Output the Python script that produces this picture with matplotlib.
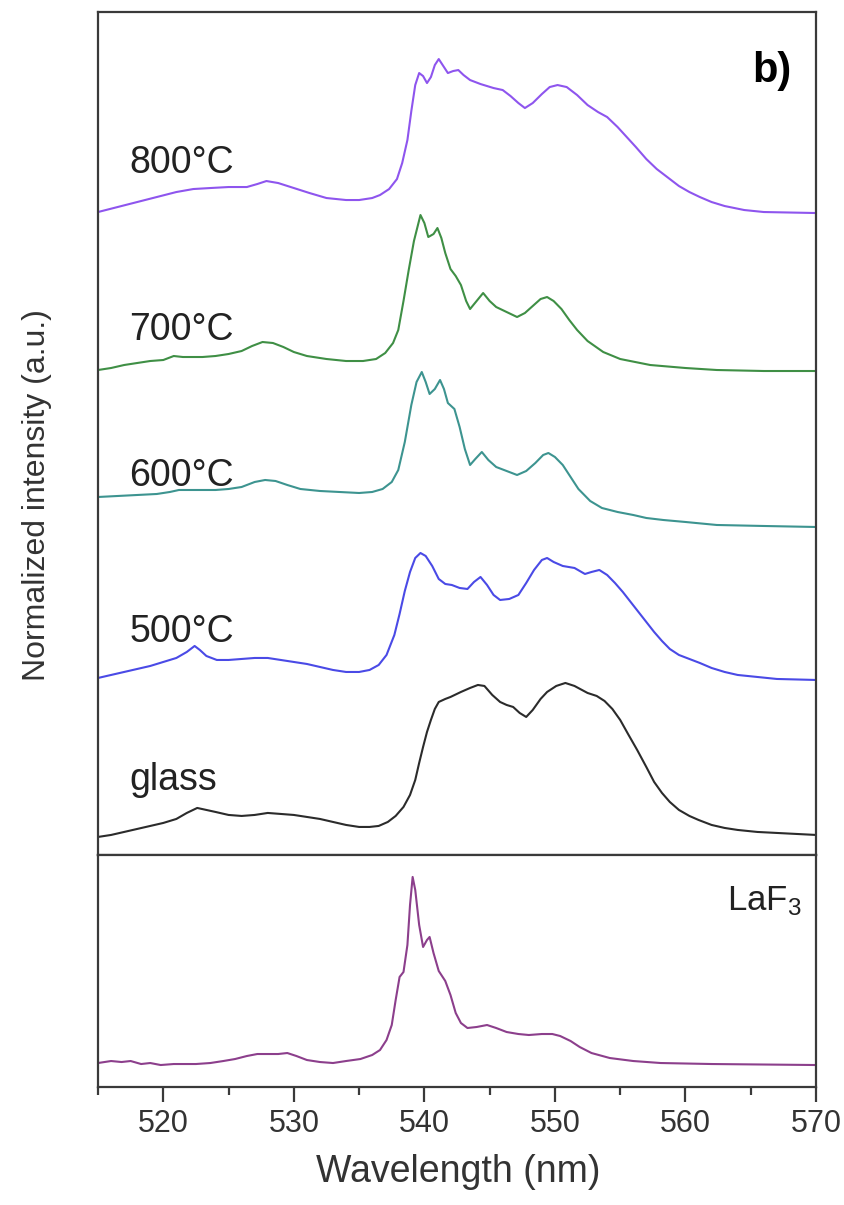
import numpy as np
import matplotlib
matplotlib.use('Agg')
import matplotlib.pyplot as plt
from matplotlib.ticker import MultipleLocator

plt.rcParams['font.family'] = ['Liberation Sans', 'DejaVu Sans']
plt.rcParams['mathtext.fontset'] = 'custom'
plt.rcParams['mathtext.rm'] = 'Liberation Sans'
plt.rcParams['mathtext.it'] = 'Liberation Sans'

# ---- data: wavelength (nm) / intensity (a.u., relative to each curve's tail) ----
wl_glass = [515, 516, 517, 518, 519, 520, 521, 521.8, 522.6, 523.3, 524, 525, 526, 527, 528,
            529, 530, 531, 532, 533, 534, 535, 535.8, 536.5, 537.2, 537.8, 538.4, 538.9,
            539.3, 539.6, 539.9, 540.2, 540.5, 540.8, 541.1, 541.6, 542, 542.8, 543.5,
            544.1, 544.6, 545.2, 545.8, 546.3, 546.8, 547.3, 547.8, 548.3, 548.9, 549.4,
            550.1, 550.8, 551.5, 552.5, 553.2, 553.8, 554.4, 555, 555.6, 556.3, 557,
            557.6, 558.2, 558.8, 559.5, 560.3, 561, 562, 563, 564, 565.5, 567, 568.5, 570]
I_glass = [-0.02, 0.0, 0.03, 0.06, 0.09, 0.12, 0.16, 0.22, 0.27, 0.25, 0.23, 0.20, 0.19, 0.20, 0.22,
           0.21, 0.20, 0.18, 0.16, 0.13, 0.10, 0.08, 0.08, 0.09, 0.13, 0.19, 0.28, 0.40,
           0.55, 0.72, 0.88, 1.03, 1.15, 1.26, 1.33, 1.36, 1.38, 1.43, 1.47,
           1.50, 1.49, 1.40, 1.33, 1.30, 1.28, 1.22, 1.18, 1.25, 1.36, 1.43,
           1.49, 1.52, 1.49, 1.42, 1.39, 1.34, 1.26, 1.15, 1.01, 0.85, 0.68,
           0.53, 0.42, 0.33, 0.25, 0.19, 0.15, 0.10, 0.07, 0.05, 0.03, 0.02, 0.01, 0.0]

wl_500 = [515, 516, 517, 518, 519, 520, 521, 521.8, 522.4, 522.8, 523.3, 524.1, 525, 526, 527,
          528, 529, 530, 531, 532, 533, 534, 535, 535.8, 536.5, 537.1, 537.7, 538.1, 538.5,
          538.9, 539.3, 539.7, 540.1, 540.6, 541.1, 541.6, 542.1, 542.7, 543.3, 543.8,
          544.3, 544.8, 545.3, 545.8, 546.5, 547.2, 547.8, 548.4, 549, 549.4, 549.9,
          550.6, 551.5, 552.3, 552.8, 553.4, 554, 554.6, 555.2, 555.8, 556.4, 557, 557.6,
          558.2, 558.8, 559.5, 560.3, 561.1, 562, 563, 564, 565.5, 567, 570]
I_500 = [0.02, 0.05, 0.08, 0.11, 0.14, 0.18, 0.22, 0.28, 0.34, 0.30, 0.24, 0.20, 0.20, 0.21, 0.22,
         0.22, 0.20, 0.18, 0.16, 0.13, 0.10, 0.08, 0.08, 0.10, 0.15, 0.25, 0.45, 0.66, 0.89,
         1.08, 1.22, 1.27, 1.24, 1.14, 1.01, 0.96, 0.95, 0.92, 0.91, 0.98,
         1.03, 0.95, 0.85, 0.80, 0.81, 0.85, 0.97, 1.10, 1.20, 1.22, 1.18,
         1.14, 1.12, 1.06, 1.08, 1.10, 1.05, 0.97, 0.88, 0.78, 0.68, 0.58, 0.48,
         0.39, 0.31, 0.25, 0.21, 0.17, 0.12, 0.08, 0.05, 0.03, 0.01, 0.0]

wl_600 = [515, 516.5, 518, 519.5, 520.5, 521.2, 522.5, 524, 525, 526, 527, 527.8, 528.6, 529.5,
          530.5, 532, 533.5, 535, 536, 536.8, 537.5, 538, 538.5, 539, 539.4, 539.8, 540.1,
          540.4, 540.8, 541.2, 541.5, 541.8, 542.3, 542.7, 543.1, 543.5, 543.9, 544.4,
          544.9, 545.5, 546.3, 547.1, 547.8, 548.5, 549.1, 549.5, 550, 550.6, 551.2,
          551.8, 552.7, 553.6, 554.8, 556, 557, 558.3, 560, 562.4, 566, 570]
I_600 = [0.30, 0.31, 0.32, 0.33, 0.35, 0.37, 0.37, 0.37, 0.38, 0.40, 0.45, 0.47, 0.46, 0.42,
         0.38, 0.36, 0.35, 0.34, 0.35, 0.38, 0.45, 0.57, 0.85, 1.22, 1.45, 1.55, 1.45,
         1.33, 1.38, 1.47, 1.38, 1.24, 1.18, 1.00, 0.78, 0.62, 0.68, 0.75,
         0.67, 0.60, 0.56, 0.52, 0.56, 0.64, 0.72, 0.74, 0.70, 0.62, 0.50,
         0.38, 0.26, 0.19, 0.15, 0.12, 0.09, 0.07, 0.05, 0.02, 0.01, 0.0]

wl_700 = [515, 516, 517, 518, 519, 520, 520.8, 521.5, 523, 524, 525, 526, 526.8, 527.6, 528.4,
          529.2, 530, 531, 532.5, 534, 535.3, 536.3, 537, 537.6, 538, 538.4, 538.8, 539.2,
          539.7, 540, 540.3, 540.7, 541, 541.3, 541.6, 542, 542.4, 542.8, 543.2, 543.5,
          544, 544.5, 545, 545.5, 546.3, 547.1, 547.7, 548.3, 548.9, 549.4, 549.9, 550.5,
          551.1, 551.7, 552.5, 553.7, 555, 557.3, 560, 562.4, 566, 570]
I_700 = [0.01, 0.03, 0.06, 0.08, 0.10, 0.11, 0.15, 0.14, 0.14, 0.15, 0.17, 0.20, 0.25, 0.29, 0.28,
         0.24, 0.19, 0.15, 0.12, 0.10, 0.10, 0.12, 0.18, 0.28, 0.41, 0.70, 1.01, 1.30,
         1.56, 1.48, 1.34, 1.37, 1.43, 1.33, 1.18, 1.02, 0.95, 0.86, 0.70, 0.62,
         0.70, 0.78, 0.70, 0.64, 0.59, 0.54, 0.58, 0.65, 0.72, 0.74, 0.70, 0.62,
         0.51, 0.41, 0.30, 0.19, 0.12, 0.06, 0.03, 0.01, 0.0, 0.0]

wl_800 = [515, 516.5, 518, 519.5, 521, 522.3, 523.6, 525, 526.4, 527.2, 527.9, 528.8, 530, 531.2,
          532.5, 534, 535, 536, 536.6, 537.3, 537.9, 538.3, 538.7, 539, 539.3, 539.6, 539.9,
          540.2, 540.5, 540.8, 541.1, 541.4, 541.8, 542.2, 542.6, 543, 543.5, 544.3, 545.3,
          546, 546.6, 547.2, 547.7, 548.3, 549, 549.6, 550.2, 550.9, 551.7, 552.5, 553.3,
          554, 554.8, 555.5, 556.2, 557, 557.8, 558.6, 559.5, 560.3, 561.1, 562, 563,
          564.5, 566, 570]
I_800 = [0.01, 0.06, 0.11, 0.16, 0.21, 0.24, 0.25, 0.26, 0.26, 0.29, 0.32, 0.30, 0.25, 0.20,
         0.15, 0.13, 0.13, 0.15, 0.18, 0.24, 0.34, 0.50, 0.73, 1.02, 1.28, 1.40, 1.37,
         1.30, 1.36, 1.48, 1.54, 1.48, 1.40, 1.42, 1.43, 1.38, 1.33, 1.29, 1.25,
         1.23, 1.17, 1.10, 1.05, 1.10, 1.19, 1.26, 1.28, 1.26, 1.18, 1.08, 1.01,
         0.96, 0.86, 0.76, 0.66, 0.54, 0.44, 0.36, 0.27, 0.21, 0.16, 0.11, 0.07,
         0.03, 0.01, 0.0]

wl_laf3 = [515, 516, 516.8, 517.5, 518.3, 519, 519.8, 520.8, 521.5, 522.5, 523.6, 524.6, 525.5,
           526.4, 527.2, 528, 528.8, 529.5, 530.2, 531, 532, 533, 534, 535.1, 536, 536.6,
           537.1, 537.5, 537.8, 538.1, 538.4, 538.7, 538.9, 539.1, 539.3, 539.6, 539.9,
           540.2, 540.4, 540.7, 541.1, 541.6, 542, 542.4, 542.8, 543.3, 544, 544.8, 545.5,
           546.3, 547.2, 548, 549, 549.8, 550.4, 551.2, 551.9, 552.8, 554.2, 556, 558.1,
           562, 570]
I_laf3 = [0.02, 0.04, 0.03, 0.04, 0.01, 0.02, 0.0, 0.01, 0.01, 0.01, 0.02, 0.04, 0.06,
          0.09, 0.11, 0.11, 0.11, 0.12, 0.09, 0.05, 0.03, 0.02, 0.04, 0.06, 0.10, 0.15,
          0.25, 0.40, 0.65, 0.88, 0.93, 1.20, 1.60, 1.88, 1.75, 1.40, 1.18,
          1.25, 1.28, 1.12, 0.94, 0.84, 0.70, 0.52, 0.42, 0.37, 0.38, 0.40, 0.37,
          0.33, 0.31, 0.30, 0.31, 0.31, 0.29, 0.24, 0.18, 0.12, 0.07, 0.04, 0.02,
          0.01, 0.0]

labels = ['glass', '500°C', '600°C', '700°C', '800°C']
offsets = [0.20, 1.75, 3.28, 4.84, 6.42]
colors = ['#2b2b2b', '#4a4ae6', '#3d9490', '#3f8f45', '#8e55ee']
label_y = [0.65, 2.13, 3.69, 5.15, 6.82]
series = [(wl_glass, I_glass), (wl_500, I_500), (wl_600, I_600),
          (wl_700, I_700), (wl_800, I_800)]

fig = plt.figure(figsize=(8.45, 12.05), dpi=100)
ax_top = fig.add_axes([0.116, 0.2905, 0.8497, 0.6995])
ax_bot = fig.add_axes([0.116, 0.0979, 0.8497, 0.1926])

spine_c = '#3a3a3a'
for ax in (ax_top, ax_bot):
    for s in ax.spines.values():
        s.set_linewidth(1.6)
        s.set_color(spine_c)
    ax.set_xlim(515, 570)
    ax.set_yticks([])

for (wl, I), off, c, lab, ly in zip(series, offsets, colors, labels, label_y):
    ax_top.plot(wl, np.array(I) + off, color=c, lw=1.5)
    ax_top.text(517.4, ly, lab, fontsize=27, color='#222222', va='baseline')

ax_top.set_ylim(0, 8.43)
ax_top.set_xticks([])
ax_top.text(565.1, 7.73, 'b)', fontsize=30, fontweight='bold', va='baseline')

ax_bot.plot(wl_laf3, np.array(I_laf3) + 0.22, color='#8c3f8c', lw=1.5)
ax_bot.set_ylim(0, 2.32)
ax_bot.text(563.2, 1.77, 'LaF$_3$', fontsize=25, color='#222222', va='baseline')

ax_bot.xaxis.set_major_locator(MultipleLocator(10))
ax_bot.xaxis.set_minor_locator(MultipleLocator(5))
ax_bot.tick_params(axis='x', which='major', direction='out', length=11, width=1.6,
                   color=spine_c, labelsize=22, pad=5, labelcolor='#333333')
ax_bot.tick_params(axis='x', which='minor', direction='out', length=6, width=1.6,
                   color=spine_c)

fig.text(0.542, 0.027, 'Wavelength (nm)', fontsize=27, ha='center', va='center', color='#333333')
fig.text(0.044, 0.589, 'Normalized intensity (a.u.)', fontsize=23, rotation=90,
         ha='center', va='center', color='#333333')

fig.savefig('out.png', dpi=100)
